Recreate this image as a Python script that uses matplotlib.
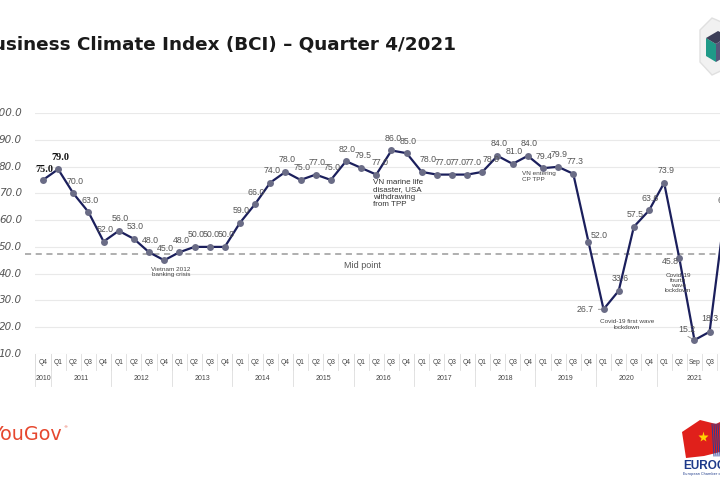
import matplotlib
matplotlib.use('Agg')
import matplotlib.pyplot as plt
import matplotlib.transforms as mtransforms
from matplotlib.patches import Polygon
import numpy as np

# ---------------- data ----------------
years = ['2010', '2011', '2012', '2013', '2014', '2015', '2016', '2017',
         '2018', '2019', '2020', '2021']
year_counts = [1, 4, 4, 4, 4, 4, 4, 4, 4, 4, 4, 5]
quarters = ['Q4'] + ['Q1', 'Q2', 'Q3', 'Q4'] * 10 + ['Q1', 'Q2', 'Sep', 'Q3', 'Q4']
values = [75.0, 79.0, 70.0, 63.0, 52.0, 56.0, 53.0, 48.0, 45.0, 48.0, 50.0,
          50.0, 50.0, 59.0, 66.0, 74.0, 78.0, 75.0, 77.0, 75.0, 82.0, 79.5,
          77.0, 86.0, 85.0, 78.0, 77.0, 77.0, 77.0, 78.0, 84.0, 81.0, 84.0,
          79.4, 79.9, 77.3, 52.0, 26.7, 33.6, 57.5, 63.6, 73.9, 45.8, 15.2,
          18.3, 62.7]
y_ticks = [10, 20, 30, 40, 50, 60, 70, 80, 90, 100]
mid_point = 47.3
title = 'Business Climate Index (BCI) \u2013 Quarter 4/2021'

# ---------------- layout helpers ----------------
W, H = 720, 480
fig = plt.figure(figsize=(7.2, 4.8), dpi=100)
fig.patch.set_facecolor('white')


def fx(x):
    return x / W


def fy(y):
    return 1 - y / H


X0, STEP = 43.0, 15.15
AX_L, AX_R, AX_T, AX_B = 35, 735, 113, 354
ax = fig.add_axes([fx(AX_L), fy(AX_B), (AX_R - AX_L) / W, (AX_B - AX_T) / H])
ax.set_xlim((AX_L - X0) / STEP, (AX_R - X0) / STEP)
ax.set_ylim(10, 100)
for s in ax.spines.values():
    s.set_visible(False)
ax.set_xticks([])
ax.set_yticks([])
ax.patch.set_alpha(0)


def dx(px):
    return (px - X0) / STEP


n = len(values)
idx = np.arange(n)

# grid lines
for v in y_ticks:
    ax.axhline(v, color='#e9e9e9', lw=0.8, zorder=0)

# y tick labels
ytrans = mtransforms.blended_transform_factory(fig.transFigure, ax.transData)
for v in y_ticks:
    fig.text(fx(22), v, f'{v:.1f}', transform=ytrans, ha='right', va='center',
             fontsize=7.5, style='italic', color='#555555')

# mid point line
ax.plot([dx(25), dx(AX_R)], [mid_point, mid_point], ls=(0, (4, 3)),
        color='#9a9a9a', lw=1.1, clip_on=False, zorder=1)

# line
ax.plot(idx, values, color='#1b1f5c', lw=1.6, zorder=3, clip_on=False)
ax.plot(idx, values, ls='none', marker='o', ms=5, color='#6a6c86',
        mec='none', zorder=4, clip_on=False)

# data labels
offsets = {0: (1, 10), 1: (2, 12), 22: (4, 12), 25: (6, 12), 26: (6, 12),
           27: (6, 12), 28: (6, 12), 29: (9, 12), 36: (11, 6),
           37: (-18, 0), 42: (-9, -3), 43: (-8, 11), 44: (0, 13)}
for i, v in enumerate(values):
    ox, oy = offsets.get(i, (1.5, 12))
    if i in (0, 1):
        kw = dict(fontsize=7.3, fontweight='bold', color='#111111',
                  family='Liberation Serif')
    else:
        kw = dict(fontsize=6.3, color='#555555', family='Liberation Sans')
    ax.annotate(f'{v:.1f}', (i, v), xytext=(ox, oy),
                textcoords='offset pixels', ha='center', va='center',
                zorder=5, annotation_clip=False, **kw)

# small leader lines
ax.annotate('', (37, values[37]), xytext=(-8, 0), textcoords='offset pixels',
            arrowprops=dict(arrowstyle='-', color='#888888', lw=0.6),
            annotation_clip=False)
ax.annotate('', (43, values[43]), xytext=(-9, 5), textcoords='offset pixels',
            arrowprops=dict(arrowstyle='-', color='#888888', lw=0.6),
            annotation_clip=False)

# event annotations (pixel positions)
ann_kw = dict(color='#444444', family='Liberation Sans')
fig.text(fx(171), fy(272), 'Vietnam 2012\nbanking crisis', ha='center',
         va='center', fontsize=4.6, linespacing=1.1, **ann_kw)
fig.text(fx(362), fy(266), 'Mid point', ha='center', va='center',
         fontsize=6.5, color='#555555', family='Liberation Sans')
fig.text(fx(373), fy(179), 'VN marine life\ndisaster, USA\nwithdrawing\nfrom TPP',
         ha='left', va='top', fontsize=5.8, linespacing=1.1, color='#333333',
         family='Liberation Sans')
fig.text(fx(522), fy(176.5), 'VN entering\nCP TPP', ha='left', va='center',
         fontsize=4.6, linespacing=1.1, **ann_kw)
fig.text(fx(627), fy(324.5), 'Covid-19 first wave\nlockdown', ha='center',
         va='center', fontsize=4.6, linespacing=1.1, **ann_kw)
fig.text(fx(678), fy(283), 'Covid-19\nfourth\nwave\nlockdown', ha='center',
         va='center', fontsize=4.6, linespacing=1.05, **ann_kw)

# ---------------- x-axis table ----------------
xtrans = mtransforms.blended_transform_factory(ax.transData, fig.transFigure)
for i, q in enumerate(quarters):
    ax.text(i, fy(362), q, transform=xtrans, ha='center', va='center',
            fontsize=4.8, color='#444444', family='Liberation Sans')
for i in range(n + 1):
    ax.plot([i - 0.5, i - 0.5], [fy(354), fy(370)], transform=xtrans,
            color='#dddddd', lw=0.6, clip_on=False)
start = 0
for y, c in zip(years, year_counts):
    centre = start + (c - 1) / 2
    ax.text(centre, fy(379), y, transform=xtrans, ha='center', va='center',
            fontsize=5, color='#444444', family='Liberation Sans')
    ax.plot([start - 0.5, start - 0.5], [fy(354), fy(386)], transform=xtrans,
            color='#dddddd', lw=0.6, clip_on=False)
    start += c

# ---------------- title ----------------
fig.text(fx(456), fy(44), title, ha='right', va='center', fontsize=13.2,
         fontweight='bold', color='#1a1a1a', family='DejaVu Sans')

# ---------------- logos ----------------
fig.text(fx(62), fy(435), 'YouGov', ha='right', va='center', fontsize=13.8,
         color='#e6472e', family='DejaVu Sans')
fig.text(fx(63), fy(427), '\u00ae', ha='left', va='center', fontsize=3,
         color='#e6472e')

# top-right cube icon
cube_outline = Polygon([(fx(712), fy(18)), (fx(740), fy(30)), (fx(740), fy(62)),
                        (fx(712), fy(75)), (fx(700), fy(62)), (fx(700), fy(30))],
                       closed=True, transform=fig.transFigure, fc='#f1f1f1',
                       ec='#e0e0e0', lw=1)
fig.patches.append(cube_outline)
teal = Polygon([(fx(706), fy(38)), (fx(716), fy(44)), (fx(716), fy(62)),
                (fx(706), fy(56))], closed=True, transform=fig.transFigure,
               fc='#1f9a88', ec='none')
fig.patches.append(teal)
dark = Polygon([(fx(706), fy(38)), (fx(718), fy(31)), (fx(728), fy(36)),
                (fx(716), fy(44))], closed=True, transform=fig.transFigure,
               fc='#3d3f58', ec='none')
fig.patches.append(dark)
side = Polygon([(fx(716), fy(44)), (fx(728), fy(36)), (fx(728), fy(55)),
                (fx(716), fy(62))], closed=True, transform=fig.transFigure,
               fc='#56577a', ec='none')
fig.patches.append(side)

# Eurocham logo
flag = Polygon([(fx(682), fy(432)), (fx(700), fy(420)), (fx(716), fy(424)),
                (fx(720), fy(422)), (fx(720), fy(452)), (fx(704), fy(456)),
                (fx(686), fy(458))], closed=True, transform=fig.transFigure,
               fc='#e0201b', ec='none')
fig.patches.append(flag)
fig.lines.append(plt.Line2D([fx(703)], [fy(437)], marker='*', ms=8,
                            color='#ffd400', mec='none',
                            transform=fig.transFigure))
for k in range(5):
    fig.lines.append(plt.Line2D([fx(712 + k * 2), fx(714 + k * 2)],
                                [fy(424), fy(456)], color='#2a3f99', lw=0.7,
                                transform=fig.transFigure))
fig.text(fx(683), fy(466), 'EUROCHAM', ha='left', va='center', fontsize=8.5,
         fontweight='bold', color='#1d3a8a', family='Liberation Sans')
fig.text(fx(683), fy(474), 'European Chamber of Commerce', ha='left',
         va='center', fontsize=2.5, color='#1d3a8a')

fig.savefig('out.png', dpi=100, facecolor='white')
